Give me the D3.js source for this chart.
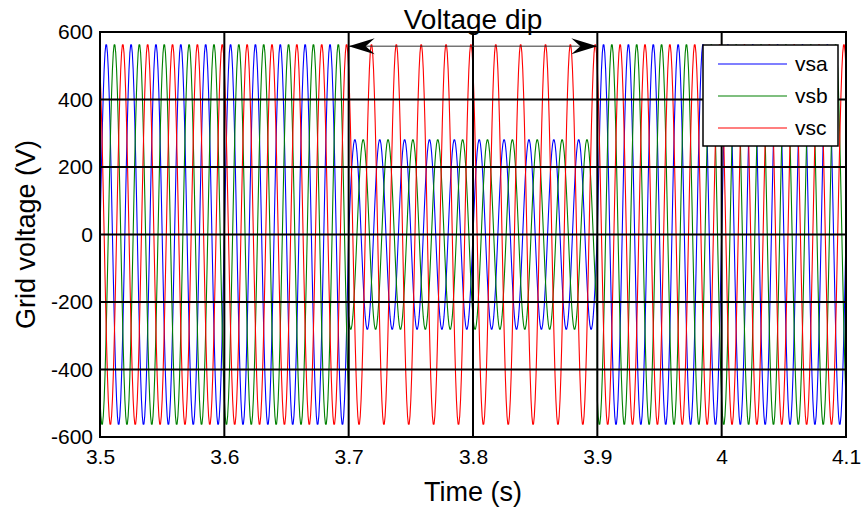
<!DOCTYPE html>
<html>
<head>
<meta charset="utf-8">
<script src="https://cdn.jsdelivr.net/npm/d3@7"></script>
<style>
  html, body { margin: 0; padding: 0; background: #fff; }
  svg { display: block; font-family: "Liberation Sans", Arial, sans-serif; }
</style>
</head>
<body>
<svg id="chart" width="864" height="510"></svg>
<script>
// ---- data ----
// One period of the unit phase waveform, sampled every 12 degrees.
const cycleShape = [
  0.000, 0.208, 0.407, 0.588, 0.743, 0.866, 0.951, 0.995, 0.995, 0.951,
  0.866, 0.743, 0.588, 0.407, 0.208, 0.000, -0.208, -0.407, -0.588, -0.743,
  -0.866, -0.951, -0.995, -0.995, -0.951, -0.866, -0.743, -0.588, -0.407, -0.208
];
const gridFrequency = 50;              // Hz
const seriesNames = ["vsa", "vsb", "vsc"];
const seriesColors = ["#0000ff", "#008000", "#ff0000"];
const phaseShiftSamples = [0, -10, 10]; // 0, -120, +120 degrees

// Time segments and peak voltage of each phase in each segment (V)
const segmentStart = [3.5, 3.7, 3.9];
const segmentEnd   = [3.7, 3.9, 4.1];
const peakVsa = [565, 282, 565];
const peakVsb = [565, 282, 565];
const peakVsc = [565, 565, 565];
const peaks = [peakVsa, peakVsb, peakVsc];

const xTicks = [3.5, 3.6, 3.7, 3.8, 3.9, 4.0, 4.1];
const yTicks = [-600, -400, -200, 0, 200, 400, 600];
const dipStart = 3.7, dipEnd = 3.9, dipArrowLevel = 558;

// ---- layout ----
const svg = d3.select("#chart");
const margin = { left: 100, right: 18, top: 32, bottom: 73 };
const W = 864, H = 510;
const x = d3.scaleLinear().domain([3.5, 4.1]).range([margin.left, W - margin.right]);
const y = d3.scaleLinear().domain([-600, 600]).range([H - margin.bottom, margin.top]);

// ---- build series ----
const n = cycleShape.length;
const step = 1 / gridFrequency / n;
function buildSeries(si) {
  const pts = [];
  segmentStart.forEach((s0, s) => {
    const count = Math.round((segmentEnd[s] - s0) / step);
    for (let k = 0; k <= count; k++) {
      const g = Math.round((s0 - segmentStart[0]) / step) + k;
      const idx = ((g + phaseShiftSamples[si]) % n + n) % n;
      pts.push({ t: segmentStart[0] + g * step, v: peaks[si][s] * cycleShape[idx] });
    }
  });
  return pts;
}
const series = seriesNames.map((name, i) => ({ name, color: seriesColors[i], values: buildSeries(i) }));

// ---- plot ----
svg.append("defs").append("clipPath").attr("id", "plotClip")
  .append("rect")
  .attr("x", x.range()[0]).attr("y", y.range()[1])
  .attr("width", x.range()[1] - x.range()[0])
  .attr("height", y.range()[0] - y.range()[1]);

svg.append("rect")
  .attr("x", x.range()[0]).attr("y", y.range()[1])
  .attr("width", x.range()[1] - x.range()[0])
  .attr("height", y.range()[0] - y.range()[1])
  .attr("fill", "#fff");

const line = d3.line().x(d => x(d.t)).y(d => y(d.v));
svg.append("g").attr("clip-path", "url(#plotClip)")
  .selectAll("path").data(series).join("path")
  .attr("d", d => line(d.values))
  .attr("fill", "none")
  .attr("stroke", d => d.color)
  .attr("stroke-width", 1.1)
  .attr("stroke-linejoin", "round");

// grid lines (drawn above the traces)
const grid = svg.append("g").attr("stroke", "#000").attr("stroke-width", 2);
grid.selectAll("line.vx").data(xTicks).join("line")
  .attr("x1", d => x(d)).attr("x2", d => x(d))
  .attr("y1", y.range()[0]).attr("y2", y.range()[1]);
grid.selectAll("line.hy").data(yTicks).join("line")
  .attr("class", "hy")
  .attr("x1", x.range()[0]).attr("x2", x.range()[1])
  .attr("y1", d => y(d)).attr("y2", d => y(d));

// axes
const xAxis = d3.axisBottom(x).tickValues(xTicks).tickSize(0).tickPadding(12)
  .tickFormat(d3.format("~g"));
const yAxis = d3.axisLeft(y).tickValues(yTicks).tickSize(0).tickPadding(7)
  .tickFormat(d => String(d));
const gx = svg.append("g").attr("transform", `translate(0,${y.range()[0]})`).call(xAxis);
const gy = svg.append("g").attr("transform", `translate(${x.range()[0]},0)`).call(yAxis);
[gx, gy].forEach(g => {
  g.select(".domain").remove();
  g.selectAll("text").attr("font-size", 21).attr("fill", "#000")
    .attr("font-family", "Liberation Sans, Arial, sans-serif");
});

// frame
svg.append("rect")
  .attr("x", x.range()[0]).attr("y", y.range()[1])
  .attr("width", x.range()[1] - x.range()[0])
  .attr("height", y.range()[0] - y.range()[1])
  .attr("fill", "none").attr("stroke", "#000").attr("stroke-width", 2);

// labels
svg.append("text").attr("x", (x.range()[0] + x.range()[1]) / 2).attr("y", 501)
  .attr("text-anchor", "middle").attr("font-size", 27).text("Time (s)");
svg.append("text")
  .attr("transform", `translate(35,${(y.range()[0] + y.range()[1]) / 2}) rotate(-90)`)
  .attr("text-anchor", "middle").attr("font-size", 27).text("Grid voltage (V)");
svg.append("text").attr("x", x((dipStart + dipEnd) / 2)).attr("y", 29)
  .attr("text-anchor", "middle").attr("font-size", 28).text("Voltage dip");

// dip annotation: double-headed arrow
const ay = y(dipArrowLevel);
const ax0 = x(dipStart), ax1 = x(dipEnd);
svg.append("line").attr("x1", ax0).attr("x2", ax1).attr("y1", ay).attr("y2", ay)
  .attr("stroke", "#333").attr("stroke-width", 1);
function head(tipX, dir) {
  const L = 26, Wd = 8, N = 17;
  return `M${tipX},${ay} L${tipX + dir * L},${ay - Wd} L${tipX + dir * N},${ay} L${tipX + dir * L},${ay + Wd} Z`;
}
svg.append("path").attr("d", head(ax0, 1)).attr("fill", "#000");
svg.append("path").attr("d", head(ax1, -1)).attr("fill", "#000");

// legend
const lg = svg.append("g");
lg.append("rect").attr("x", 703).attr("y", 45).attr("width", 135).attr("height", 101)
  .attr("fill", "#fff").attr("stroke", "#000").attr("stroke-width", 1.5);
const ly = [64, 96, 128];
series.forEach((s, i) => {
  lg.append("line").attr("x1", 718).attr("x2", 787).attr("y1", ly[i]).attr("y2", ly[i])
    .attr("stroke", s.color).attr("stroke-width", 1.1);
  lg.append("text").attr("x", 795).attr("y", ly[i]).attr("dy", "0.35em")
    .attr("font-size", 21).text(s.name);
});
</script>
</body>
</html>
